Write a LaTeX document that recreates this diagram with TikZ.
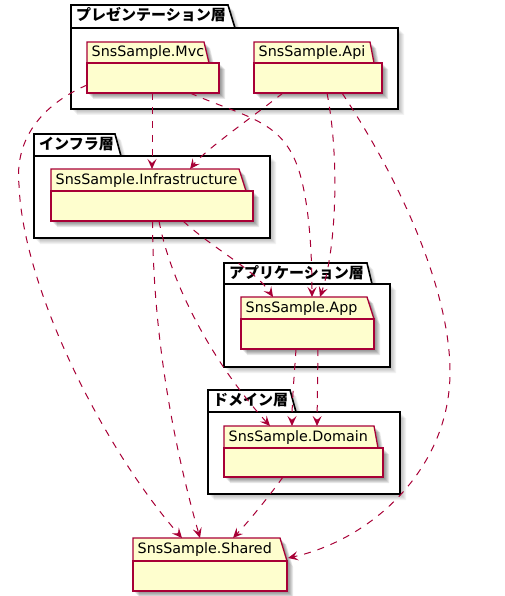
\documentclass[tikz,border=0pt]{standalone}
\usepackage{fontspec}
\setmainfont{DejaVu Sans}
\newfontfamily\jpfont{Noto Sans CJK JP}
\usetikzlibrary{arrows.meta,calc}
\definecolor{pkgred}{HTML}{A80036}
\definecolor{pkgfill}{HTML}{FEFECE}
\tikzset{
  outerline/.style={draw=black, line width=1.6pt, fill=white, line join=miter},
  innerline/.style={draw=pkgred, line width=1.3pt, fill=pkgfill, line join=miter},
  outerlabel/.style={font=\jpfont\bfseries\fontsize{15}{15}\selectfont, anchor=base west, inner sep=0pt},
  innerlabel/.style={font=\fontsize{14.3}{14.3}\selectfont, anchor=base west, inner sep=0pt},
  outershadow/.style={fill=black, opacity=0.05},
  innershadow/.style={fill=black, opacity=0.09},
  dep/.style={draw=pkgred, line width=1pt, dash pattern=on 7pt off 7pt,
    -{Stealth[length=10pt,width=9pt,inset=4pt]}},
}
\def\kind{outer}
\def\labx{5}
\def\laby{15.3}
% #1 name, #2 x1, #3 y1, #4 tab top-right x, #5 tab bottom-right x, #6 tab bottom y, #7 x2, #8 y2, #9 label
\newcommand\pkgfolder[9]{%
  \foreach \s in {2,3,4,5,6}{%
    \fill[\kind shadow, shift={(\s,\s)}] (#2,#3) -- (#4,#3) -- (#5,#6) -- (#7,#6) -- (#7,#8) -- (#2,#8) -- cycle;
  }
  \filldraw[\kind line] (#2,#3) -- (#4,#3) -- (#5,#6) -- (#2,#6) -- cycle;
  \pgfmathsetmacro\pkgw{#7-#2}
  \pgfmathsetmacro\pkgh{#8-#6}
  \node[\kind line, rectangle, anchor=north west, inner sep=0pt, outer sep=0pt,
        minimum width=\pkgw pt, minimum height=\pkgh pt] (#1) at (#2,#6) {};
  \coordinate (#1T) at (#2,#3);
  \pgfmathsetmacro\labpx{#2+\labx}
  \pgfmathsetmacro\labpy{#3+\laby}
  \node[\kind label] (#1-label) at (\labpx,\labpy) {#9};
}
\begin{document}
\begin{tikzpicture}[x=1pt, y=-1pt]
  \useasboundingbox (0,0) rectangle (505,596);
  % outer packages
  \def\kind{outer}\def\labx{5}\def\laby{15.3}
  \pkgfolder{pres}{71}{5}{228}{235}{28}{398}{109}{プレゼンテーション層}
  \pkgfolder{infraL}{34}{134}{115}{121}{156}{270}{238}{インフラ層}
  \pkgfolder{appL}{224}{263}{367}{372}{284}{390}{367}{アプリケーション層}
  \pkgfolder{domL}{208}{390}{290}{296}{412}{400}{494}{ドメイン層}
  % inner packages
  \def\kind{inner}\def\labx{4.5}\def\laby{15}
  \pkgfolder{mvc}{87}{42}{204}{209}{63}{219}{93}{SnsSample.Mvc}
  \pkgfolder{api}{254}{42}{370}{374}{63}{382}{93}{SnsSample.Api}
  \pkgfolder{infra}{51}{169}{239}{246}{191}{253}{221}{SnsSample.Infrastructure}
  \pkgfolder{app}{241}{297}{367}{374}{319}{374}{349}{SnsSample.App}
  \pkgfolder{dom}{224}{426}{374}{378}{448}{383}{477}{SnsSample.Domain}
  \pkgfolder{shared}{133}{538}{280}{287}{561}{287}{591}{SnsSample.Shared}
  % dependencies
  \draw[dep] ($(mvc.south west)+(65,0)$) -- ($(infraT)+(101,0)$);
  \draw[dep] ($(api.south west)+(29,0)$) .. controls (255,115) and (205,150) .. ($(infraT)+(139,0)$);
  \draw[dep] ($(mvc.south west)+(103,0)$) .. controls (245,117) and (280,120) .. (297,165)
             .. controls (310,200) and (312,260) .. ($(appT)+(71,0)$);
  \draw[dep] ($(api.south west)+(73,0)$) .. controls (340,160) and (336,250) .. ($(appT)+(79,0)$);
  \draw[dep] ($(mvc.south west)+(0,-8)$) .. controls (35,108) and (15,145) .. (19,185)
             .. controls (23,290) and (105,450) .. ($(sharedT)+(49,0)$);
  \draw[dep] ($(api.south west)+(88,0)$) .. controls (400,180) and (450,290) .. (450,372)
             .. controls (450,470) and (370,540) .. ($(shared.north east)+(1,-3)$);
  \draw[dep] ($(infra.south west)+(132,0)$) .. controls (215,250) and (255,270) .. ($(appT)+(32,0)$);
  \draw[dep] ($(infra.south west)+(101.5,0)$) .. controls (153,340) and (175,450) .. ($(sharedT)+(67,0)$);
  \draw[dep] ($(infra.south west)+(108,0)$) .. controls (170,280) and (210,360) .. ($(domT)+(46,0)$);
  \draw[dep] ($(app.south west)+(55,0)$) .. controls (294,380) and (292,400) .. ($(domT)+(68,0)$);
  \draw[dep] ($(app.south west)+(77,0)$) -- ($(domT)+(93,0)$);
  \draw[dep] ($(dom.south west)+(59,0)$) .. controls (270,495) and (250,520) .. ($(sharedT)+(100,0)$);
\end{tikzpicture}
\end{document}
